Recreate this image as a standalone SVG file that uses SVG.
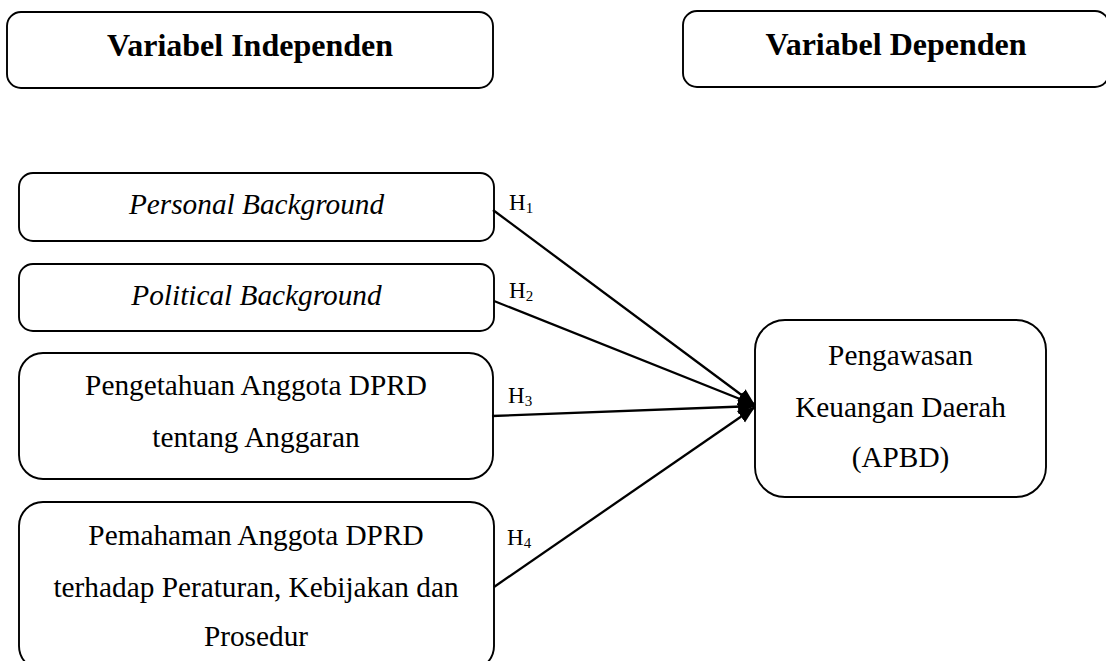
<svg xmlns="http://www.w3.org/2000/svg" width="1106" height="661" viewBox="0 0 1106 661">
<style>
.box{fill:#fff;stroke:#000;stroke-width:1.9}
.t{font-family:"Liberation Serif","Times New Roman",serif;font-size:29.3px;fill:#000;text-anchor:middle}
.h{font-family:"Liberation Serif","Times New Roman",serif;font-size:32px;font-weight:bold;fill:#000;text-anchor:middle}
.i{font-style:italic}
.lab{font-family:"Liberation Serif","Times New Roman",serif;font-size:23px;fill:#000}
.sub{font-size:15px}
.c{stroke:#000;stroke-width:2.3;fill:none;marker-end:url(#ah)}
</style>
<defs>
<marker id="ah" markerUnits="userSpaceOnUse" markerWidth="20" markerHeight="18" refX="17" refY="8" orient="auto">
<path d="M0,1 L17,8 L0,15 z" fill="#000"/>
</marker>
</defs>
<rect width="1106" height="661" fill="#fff"/>
<g id="var-independen">
<rect class="box" x="7" y="12" width="486" height="76" rx="14"/>
<text class="h" x="250" y="56">Variabel Independen</text>
</g>
<g id="var-dependen">
<rect class="box" x="683" y="11" width="426" height="76" rx="14"/>
<text class="h" x="896" y="55">Variabel Dependen</text>
</g>
<g id="personal">
<rect class="box" x="19" y="173" width="475" height="68" rx="14"/>
<text class="t i" x="256.5" y="214">Personal Background</text>
</g>
<g id="political">
<rect class="box" x="19" y="264" width="475" height="67" rx="14"/>
<text class="t i" x="256.5" y="305">Political Background</text>
</g>
<g id="pengetahuan">
<rect class="box" x="19" y="353" width="474" height="126" rx="24"/>
<text class="t" x="256" y="395">Pengetahuan Anggota DPRD</text>
<text class="t" x="256" y="447">tentang Anggaran</text>
</g>
<g id="pemahaman">
<rect class="box" x="19" y="502" width="475" height="168" rx="24"/>
<text class="t" x="256" y="545">Pemahaman Anggota DPRD</text>
<text class="t" x="256" y="597">terhadap Peraturan, Kebijakan dan</text>
<text class="t" x="256" y="646">Prosedur</text>
</g>
<g id="pengawasan">
<rect class="box" x="755" y="320" width="291" height="177" rx="30"/>
<text class="t" x="900.5" y="365">Pengawasan</text>
<text class="t" x="900.5" y="417">Keuangan Daerah</text>
<text class="t" x="900.5" y="467">(APBD)</text>
</g>
<g id="connectors">
<line class="c" x1="493" y1="210" x2="755" y2="405"/>
<line class="c" x1="494" y1="301" x2="755" y2="405"/>
<line class="c" x1="492" y1="416" x2="755" y2="406"/>
<line class="c" x1="494" y1="587" x2="755" y2="407"/>
<text class="lab" x="509" y="210">H<tspan class="sub" dy="3">1</tspan></text>
<text class="lab" x="509" y="298">H<tspan class="sub" dy="3">2</tspan></text>
<text class="lab" x="508" y="403">H<tspan class="sub" dy="3">3</tspan></text>
<text class="lab" x="507" y="545">H<tspan class="sub" dy="3">4</tspan></text>
</g>
</svg>
